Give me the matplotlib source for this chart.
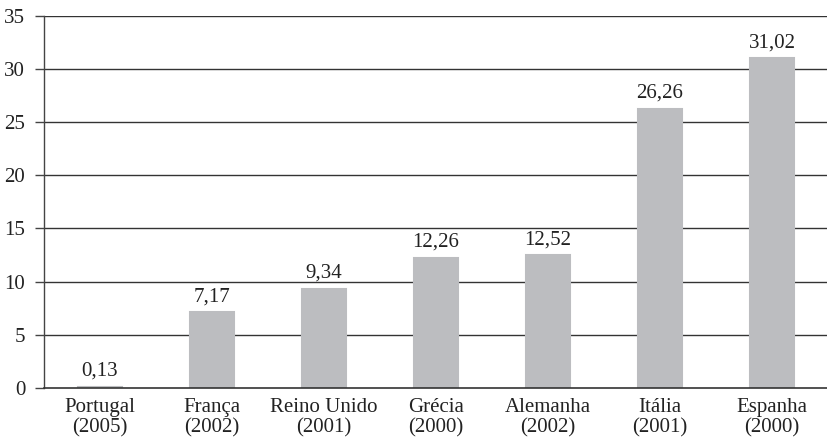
import matplotlib
matplotlib.use('Agg')
import matplotlib.pyplot as plt
import numpy as np

# data
paises = ['Portugal', 'França', 'Reino Unido', 'Grécia', 'Alemanha', 'Itália', 'Espanha']
anos = ['2005', '2002', '2001', '2000', '2002', '2001', '2000']
valores = [0.13, 7.17, 9.34, 12.26, 12.52, 26.26, 31.02]
rotulos = ['0,13', '7,17', '9,34', '12,26', '12,52', '26,26', '31,02']
yticks = [0, 5, 10, 15, 20, 25, 30, 35]

plt.rcParams['font.family'] = ['Liberation Serif', 'DejaVu Serif']
plt.rcParams['font.size'] = 15

fig = plt.figure(figsize=(8.28, 4.43), dpi=100)
ax = fig.add_axes([0.0531, 0.1242, 0.9469, 0.8408])

x = np.arange(len(paises))
bars = ax.bar(x, valores, width=0.40, color='#bcbdc0', edgecolor='#bcbdc0',
			  linewidth=1.5, zorder=1)

for b, txt in zip(bars, rotulos):
	ax.annotate(txt, (b.get_x() + b.get_width() / 2, b.get_height()),
				xytext=(0, 4), textcoords='offset points',
				ha='center', va='bottom', color='#222222')

ax.set_xlim(-0.5, len(paises) - 0.5)
ax.set_ylim(0, 35)
ax.set_yticks(yticks)
ax.set_yticklabels([str(v) for v in yticks])
ax.set_xticks(x)
ax.set_xticklabels([p + '\n(' + a + ')' for p, a in zip(paises, anos)],
				   linespacing=1.1)

# horizontal gridlines (drawn under the bars)
for v in yticks[1:]:
	ax.axhline(v, color='#333333', lw=1.0, zorder=0)

for s in ['top', 'right']:
	ax.spines[s].set_visible(False)
ax.spines['left'].set_color('#444444')
ax.spines['bottom'].set_color('#333333')
ax.spines['left'].set_linewidth(1.0)
ax.spines['bottom'].set_linewidth(1.2)

ax.tick_params(axis='y', length=6.5, width=1.0, color='#444444', pad=7, labelcolor='#222222')
ax.tick_params(axis='x', length=0, pad=7, labelcolor='#222222')

fig.savefig('out.png', dpi=100)
